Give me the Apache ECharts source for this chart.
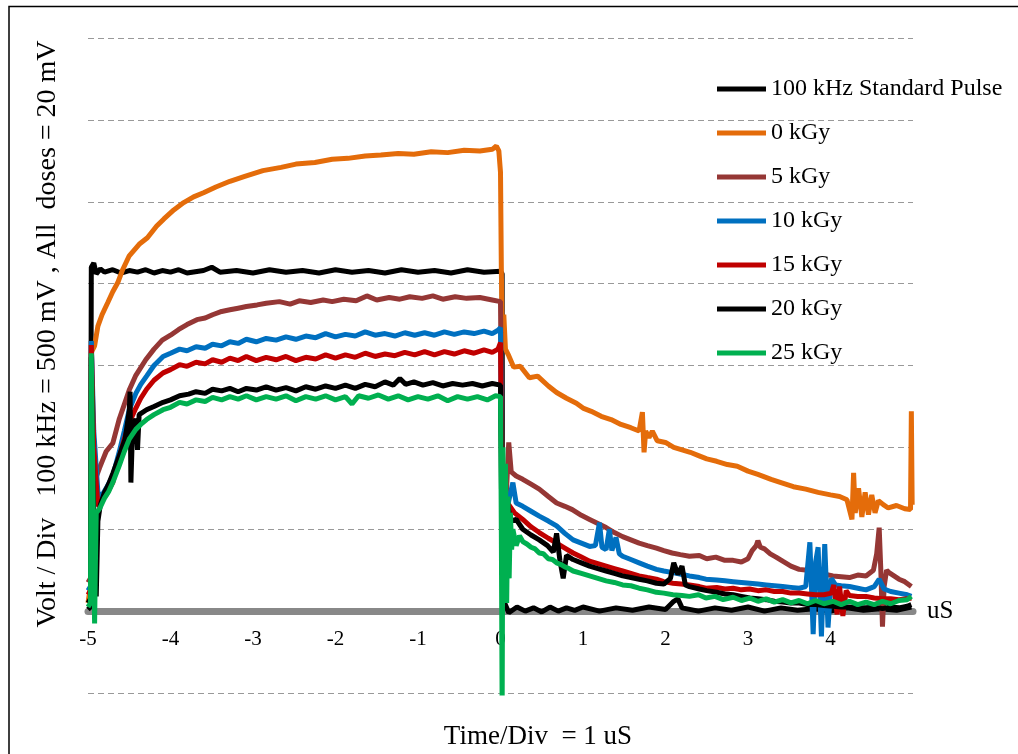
<!DOCTYPE html>
<html>
<head>
<meta charset="utf-8">
<title>Pulse response</title>
<script src="https://cdn.jsdelivr.net/npm/echarts@6/dist/echarts.min.js"></script>
<style>
html, body { margin: 0; padding: 0; background: #fff; }
#opt-pulse { width: 1018px; height: 754px; }
</style>
</head>
<body>
<div id="opt-pulse"></div>
<script>
// series names (legend order)
var seriesNames = ['100 kHz Standard Pulse', '0 kGy', '5 kGy', '10 kGy', '15 kGy', '20 kGy', '25 kGy'];

// [time (uS), divisions]
var stdPulse = [[-5,0.02],[-4.97,0.05],[-4.96,4.2],[-4.93,4.25],[-4.9,4.12],[-4.85,4.18],[-4.8,4.14],[-4.7,4.17],[-4.6,4.13],[-4.5,4.16],[-4.4,4.14],[-4.3,4.17],[-4.2,4.13],[-4.1,4.16],[-4.0,4.14],[-3.9,4.17],[-3.8,4.13],[-3.6,4.16],[-3.5,4.2],[-3.4,4.14],[-3.2,4.16],[-3.0,4.13],[-2.8,4.17],[-2.6,4.14],[-2.4,4.16],[-2.2,4.13],[-2.0,4.17],[-1.8,4.14],[-1.6,4.16],[-1.4,4.13],[-1.2,4.17],[-1.0,4.14],[-0.8,4.16],[-0.6,4.13],[-0.4,4.17],[-0.2,4.14],[0,4.15],[0.02,4.12],[0.025,0.05],[0.05,0.1],[0.1,-0.02],[0.2,0.05],[0.3,0.0],[0.4,0.04],[0.5,-0.01],[0.6,0.05],[0.7,0.0],[0.8,0.04],[0.9,0.01],[1.0,0.05],[1.2,0.0],[1.4,0.04],[1.6,0.01],[1.8,0.05],[2.0,0.02],[2.1,0.12],[2.15,0.15],[2.2,0.04],[2.4,0.0],[2.6,0.04],[2.8,0.01],[3.0,0.05],[3.2,0.0],[3.4,0.04],[3.6,0.01],[3.8,0.03],[4.0,0.0],[4.2,0.04],[4.4,0.01],[4.6,0.03],[4.8,0.01],[4.98,0.05]];

var dose0 = [[-5,0.1],[-4.97,0.3],[-4.96,3.16],[-4.92,3.24],[-4.88,3.48],[-4.83,3.62],[-4.76,3.77],[-4.7,3.9],[-4.64,4.01],[-4.58,4.17],[-4.5,4.34],[-4.38,4.48],[-4.28,4.56],[-4.17,4.7],[-4.08,4.79],[-3.96,4.9],[-3.84,4.99],[-3.72,5.06],[-3.6,5.11],[-3.45,5.18],[-3.28,5.25],[-3.1,5.31],[-2.88,5.38],[-2.66,5.42],[-2.48,5.46],[-2.25,5.48],[-2.04,5.52],[-1.85,5.53],[-1.64,5.56],[-1.45,5.57],[-1.24,5.59],[-1.05,5.58],[-0.84,5.61],[-0.64,5.6],[-0.44,5.63],[-0.25,5.62],[-0.1,5.64],[-0.05,5.68],[-0.02,5.62],[0,5.36],[0.01,4.2],[0.02,3.4],[0.04,3.62],[0.06,3.2],[0.1,3.12],[0.16,2.98],[0.24,2.99],[0.35,2.85],[0.45,2.87],[0.58,2.75],[0.68,2.67],[0.8,2.6],[0.92,2.54],[1.0,2.48],[1.1,2.44],[1.22,2.38],[1.34,2.34],[1.46,2.28],[1.58,2.24],[1.68,2.2],[1.72,2.43],[1.74,1.94],[1.76,2.2],[1.8,2.12],[1.84,2.2],[1.9,2.08],[2.0,2.06],[2.1,2.0],[2.2,1.97],[2.3,1.94],[2.4,1.9],[2.5,1.86],[2.62,1.83],[2.75,1.79],[2.87,1.77],[3.0,1.71],[3.12,1.67],[3.28,1.61],[3.4,1.57],[3.55,1.52],[3.7,1.49],[3.85,1.45],[4.0,1.42],[4.11,1.4],[4.2,1.36],[4.26,1.12],[4.28,1.69],[4.3,1.2],[4.34,1.5],[4.38,1.15],[4.42,1.45],[4.46,1.18],[4.5,1.42],[4.54,1.2],[4.58,1.35],[4.64,1.3],[4.7,1.26],[4.8,1.29],[4.9,1.25],[4.97,1.24],[4.98,2.44],[4.99,1.3]];

var dose5 = [[-5,0.35],[-4.97,0.4],[-4.96,3.3],[-4.94,2.2],[-4.9,1.64],[-4.86,1.75],[-4.82,1.85],[-4.78,1.95],[-4.7,2.05],[-4.62,2.35],[-4.5,2.7],[-4.42,2.88],[-4.3,3.07],[-4.2,3.2],[-4.1,3.31],[-4.0,3.37],[-3.9,3.44],[-3.8,3.5],[-3.68,3.56],[-3.58,3.58],[-3.49,3.62],[-3.38,3.66],[-3.28,3.68],[-3.18,3.7],[-3.08,3.72],[-2.95,3.74],[-2.84,3.76],[-2.68,3.78],[-2.55,3.75],[-2.44,3.79],[-2.3,3.77],[-2.15,3.8],[-2.04,3.78],[-1.9,3.81],[-1.75,3.79],[-1.62,3.85],[-1.5,3.8],[-1.35,3.83],[-1.22,3.81],[-1.1,3.84],[-0.95,3.82],[-0.82,3.85],[-0.7,3.81],[-0.55,3.84],[-0.41,3.82],[-0.25,3.83],[-0.1,3.8],[0,3.78],[0.02,1.5],[0.06,1.2],[0.1,2.06],[0.13,1.7],[0.19,1.65],[0.27,1.61],[0.37,1.55],[0.47,1.49],[0.58,1.4],[0.68,1.32],[0.78,1.28],[0.87,1.24],[0.98,1.17],[1.08,1.12],[1.18,1.07],[1.28,1.02],[1.38,0.96],[1.48,0.91],[1.58,0.87],[1.68,0.83],[1.78,0.8],[1.89,0.77],[1.98,0.74],[2.08,0.71],[2.18,0.69],[2.29,0.67],[2.41,0.68],[2.5,0.64],[2.61,0.66],[2.72,0.62],[2.82,0.62],[2.92,0.6],[3.0,0.64],[3.05,0.74],[3.1,0.8],[3.12,0.86],[3.15,0.78],[3.2,0.76],[3.27,0.7],[3.34,0.66],[3.42,0.61],[3.52,0.55],[3.62,0.51],[3.72,0.5],[3.83,0.47],[3.93,0.45],[4.03,0.43],[4.13,0.42],[4.23,0.41],[4.33,0.44],[4.43,0.43],[4.52,0.5],[4.56,0.7],[4.59,1.02],[4.61,0.5],[4.63,-0.19],[4.65,0.3],[4.68,0.5],[4.71,0.47],[4.77,0.43],[4.83,0.39],[4.9,0.36],[4.98,0.3]];

var dose10 = [[-5,0.25],[-4.97,0.3],[-4.96,3.3],[-4.93,2.2],[-4.88,1.45],[-4.84,1.4],[-4.78,1.5],[-4.7,1.65],[-4.62,1.95],[-4.56,2.2],[-4.5,2.46],[-4.42,2.66],[-4.36,2.77],[-4.29,2.87],[-4.2,3.0],[-4.09,3.11],[-4.0,3.15],[-3.89,3.2],[-3.8,3.18],[-3.69,3.23],[-3.58,3.21],[-3.49,3.26],[-3.38,3.24],[-3.28,3.29],[-3.18,3.27],[-3.08,3.32],[-2.96,3.29],[-2.84,3.33],[-2.72,3.31],[-2.6,3.35],[-2.48,3.32],[-2.36,3.36],[-2.24,3.34],[-2.12,3.39],[-2.0,3.35],[-1.88,3.38],[-1.76,3.36],[-1.64,3.41],[-1.52,3.37],[-1.4,3.39],[-1.28,3.36],[-1.16,3.4],[-1.04,3.37],[-0.92,3.4],[-0.8,3.37],[-0.68,3.41],[-0.56,3.38],[-0.44,3.41],[-0.32,3.39],[-0.2,3.42],[-0.1,3.39],[-0.03,3.43],[0,3.46],[0.02,1.1],[0.05,1.0],[0.1,1.35],[0.15,1.57],[0.19,1.32],[0.27,1.28],[0.37,1.22],[0.47,1.16],[0.58,1.1],[0.68,1.04],[0.78,0.95],[0.88,0.87],[0.98,0.83],[1.08,0.79],[1.15,0.8],[1.2,1.08],[1.23,0.78],[1.28,0.75],[1.32,1.0],[1.35,0.74],[1.4,0.9],[1.44,0.7],[1.48,0.67],[1.58,0.63],[1.68,0.59],[1.78,0.55],[1.89,0.51],[1.98,0.49],[2.09,0.47],[2.19,0.45],[2.29,0.43],[2.41,0.41],[2.49,0.39],[2.62,0.38],[2.72,0.37],[2.82,0.36],[2.92,0.35],[3.02,0.34],[3.12,0.33],[3.22,0.32],[3.32,0.31],[3.42,0.3],[3.52,0.29],[3.62,0.28],[3.7,0.3],[3.75,0.84],[3.79,-0.28],[3.82,0.6],[3.85,0.78],[3.89,-0.31],[3.93,0.82],[3.97,-0.2],[4.01,0.4],[4.06,0.32],[4.13,0.31],[4.23,0.3],[4.33,0.28],[4.43,0.26],[4.53,0.3],[4.59,0.39],[4.65,0.27],[4.73,0.24],[4.83,0.22],[4.93,0.2],[4.98,0.18]];

var dose15 = [[-5,0.2],[-4.97,0.25],[-4.96,3.25],[-4.93,2.0],[-4.88,1.28],[-4.84,1.35],[-4.78,1.42],[-4.7,1.57],[-4.62,1.88],[-4.56,2.1],[-4.5,2.3],[-4.42,2.48],[-4.36,2.6],[-4.29,2.71],[-4.2,2.82],[-4.09,2.91],[-4.0,2.95],[-3.89,3.01],[-3.8,2.99],[-3.69,3.04],[-3.58,3.02],[-3.49,3.07],[-3.38,3.04],[-3.28,3.09],[-3.18,3.06],[-3.08,3.11],[-2.96,3.06],[-2.84,3.1],[-2.72,3.07],[-2.6,3.11],[-2.48,3.06],[-2.36,3.1],[-2.24,3.08],[-2.12,3.13],[-2.0,3.09],[-1.88,3.13],[-1.76,3.1],[-1.64,3.15],[-1.52,3.11],[-1.4,3.14],[-1.28,3.12],[-1.16,3.16],[-1.04,3.13],[-0.92,3.17],[-0.8,3.13],[-0.68,3.17],[-0.56,3.14],[-0.44,3.18],[-0.32,3.15],[-0.2,3.19],[-0.1,3.16],[-0.03,3.2],[0,3.28],[0.02,1.0],[0.05,0.9],[0.1,1.3],[0.17,1.2],[0.27,1.12],[0.37,1.03],[0.47,0.96],[0.58,0.89],[0.68,0.83],[0.78,0.77],[0.88,0.71],[0.98,0.66],[1.08,0.61],[1.18,0.58],[1.28,0.55],[1.38,0.52],[1.48,0.49],[1.58,0.46],[1.68,0.43],[1.78,0.41],[1.89,0.39],[1.98,0.36],[2.09,0.34],[2.19,0.33],[2.29,0.32],[2.41,0.3],[2.49,0.28],[2.62,0.29],[2.72,0.27],[2.82,0.28],[2.92,0.26],[3.02,0.27],[3.12,0.25],[3.22,0.26],[3.32,0.24],[3.42,0.24],[3.52,0.22],[3.62,0.22],[3.72,0.21],[3.82,0.2],[3.92,0.2],[4.01,0.22],[4.04,0.32],[4.08,-0.04],[4.11,0.3],[4.15,-0.06],[4.19,0.25],[4.23,0.19],[4.33,0.18],[4.43,0.18],[4.53,0.16],[4.63,0.15],[4.73,0.15],[4.83,0.14],[4.93,0.15],[4.98,0.16]];

var dose20 = [[-5,0.1],[-4.97,0.15],[-4.96,3.1],[-4.94,1.6],[-4.9,0.18],[-4.88,1.1],[-4.85,1.3],[-4.8,1.45],[-4.75,1.55],[-4.7,1.68],[-4.62,1.9],[-4.55,2.1],[-4.5,2.45],[-4.49,2.68],[-4.48,1.57],[-4.46,2.22],[-4.42,2.35],[-4.4,1.97],[-4.38,2.4],[-4.29,2.46],[-4.2,2.5],[-4.09,2.55],[-4.0,2.58],[-3.89,2.63],[-3.78,2.65],[-3.69,2.68],[-3.58,2.66],[-3.49,2.71],[-3.38,2.69],[-3.28,2.72],[-3.18,2.68],[-3.08,2.72],[-2.96,2.7],[-2.84,2.74],[-2.72,2.7],[-2.6,2.73],[-2.48,2.69],[-2.36,2.74],[-2.24,2.71],[-2.12,2.75],[-2.0,2.72],[-1.88,2.76],[-1.76,2.72],[-1.64,2.77],[-1.52,2.74],[-1.4,2.8],[-1.3,2.76],[-1.22,2.84],[-1.15,2.77],[-1.05,2.8],[-0.94,2.76],[-0.82,2.79],[-0.7,2.75],[-0.58,2.78],[-0.46,2.76],[-0.34,2.78],[-0.22,2.75],[-0.1,2.78],[0,2.76],[0.02,0.6],[0.05,1.0],[0.08,1.35],[0.12,1.1],[0.19,1.12],[0.27,1.0],[0.37,0.93],[0.47,0.87],[0.57,0.8],[0.64,0.72],[0.68,0.95],[0.72,0.62],[0.76,0.4],[0.8,0.68],[0.88,0.63],[0.98,0.59],[1.08,0.55],[1.18,0.52],[1.28,0.49],[1.38,0.46],[1.48,0.43],[1.58,0.41],[1.68,0.39],[1.78,0.37],[1.89,0.34],[1.98,0.33],[2.06,0.4],[2.1,0.59],[2.15,0.45],[2.2,0.55],[2.24,0.32],[2.29,0.3],[2.41,0.27],[2.5,0.25],[2.62,0.23],[2.72,0.21],[2.82,0.2],[2.92,0.18],[3.02,0.16],[3.12,0.15],[3.22,0.14],[3.32,0.12],[3.42,0.11],[3.52,0.1],[3.62,0.1],[3.72,0.08],[3.82,0.08],[3.92,0.07],[4.03,0.06],[4.13,0.05],[4.23,0.05],[4.33,0.04],[4.43,0.04],[4.53,0.05],[4.63,0.03],[4.73,0.05],[4.83,0.04],[4.93,0.06],[4.98,0.08]];

var dose25 = [[-5,0.05],[-4.97,0.1],[-4.96,3.15],[-4.94,1.5],[-4.92,-0.15],[-4.91,0.6],[-4.9,1.2],[-4.86,1.25],[-4.8,1.38],[-4.75,1.46],[-4.7,1.57],[-4.62,1.78],[-4.56,1.95],[-4.5,2.1],[-4.42,2.22],[-4.36,2.28],[-4.29,2.34],[-4.2,2.4],[-4.09,2.46],[-4.0,2.49],[-3.89,2.55],[-3.8,2.53],[-3.69,2.58],[-3.58,2.56],[-3.49,2.61],[-3.38,2.58],[-3.28,2.62],[-3.18,2.59],[-3.08,2.63],[-2.96,2.58],[-2.84,2.62],[-2.72,2.59],[-2.6,2.63],[-2.48,2.57],[-2.36,2.62],[-2.24,2.59],[-2.12,2.63],[-2.0,2.58],[-1.88,2.62],[-1.8,2.53],[-1.72,2.63],[-1.6,2.6],[-1.48,2.64],[-1.36,2.59],[-1.24,2.63],[-1.12,2.58],[-1.0,2.62],[-0.88,2.59],[-0.76,2.63],[-0.64,2.57],[-0.52,2.62],[-0.4,2.59],[-0.28,2.62],[-0.16,2.58],[-0.06,2.63],[0,2.62],[0.01,1.0],[0.02,-1.23],[0.03,2.0],[0.045,0.2],[0.06,1.8],[0.075,0.1],[0.09,1.4],[0.105,0.4],[0.12,1.2],[0.135,0.75],[0.15,1.0],[0.19,0.8],[0.23,0.92],[0.27,0.85],[0.32,0.82],[0.37,0.78],[0.42,0.76],[0.47,0.71],[0.52,0.7],[0.58,0.64],[0.63,0.63],[0.68,0.59],[0.73,0.57],[0.78,0.54],[0.83,0.52],[0.88,0.49],[0.98,0.46],[1.08,0.43],[1.18,0.4],[1.28,0.37],[1.38,0.35],[1.48,0.32],[1.58,0.31],[1.68,0.28],[1.78,0.26],[1.89,0.23],[1.98,0.22],[2.09,0.2],[2.2,0.19],[2.29,0.18],[2.4,0.2],[2.49,0.16],[2.6,0.18],[2.7,0.14],[2.82,0.17],[2.92,0.13],[3.02,0.16],[3.12,0.12],[3.22,0.15],[3.32,0.11],[3.42,0.14],[3.52,0.1],[3.62,0.13],[3.72,0.09],[3.82,0.13],[3.92,0.09],[4.03,0.12],[4.13,0.08],[4.23,0.12],[4.33,0.08],[4.43,0.11],[4.53,0.08],[4.63,0.12],[4.73,0.09],[4.83,0.13],[4.93,0.14],[4.98,0.18]];

var traces = [stdPulse, dose0, dose5, dose10, dose15, dose20, dose25];

window.onload = function(){
    pulseChart();
}

function pulseChart(){
    var myChart = echarts.init(document.getElementById('opt-pulse'));
    var serif = '"Liberation Serif", "Times New Roman", serif';
    var palette = ['#000000', '#E46C0A', '#953735', '#0070C0', '#C00000', '#000000', '#00B050'];

    var series = [];
    for (var i = 0; i < traces.length; i++) {
        series.push({
            name: seriesNames[i],
            type: 'line',
            data: traces[i],
            showSymbol: false,
            symbol: 'none',
            silent: true,
            lineStyle: { width: 5, color: palette[i] },
            itemStyle: { color: palette[i] }
        });
    }

    var option = {
        animation: false,
        backgroundColor: '#fff',
        grid: { left: 88, right: 105, top: 38, bottom: 61, outerBoundsMode: 'none' },
        legend: {
            data: seriesNames,
            orient: 'vertical',
            left: 712,
            top: 72,
            icon: 'rect',
            itemWidth: 49,
            itemHeight: 5,
            itemGap: 20,
            selectedMode: false,
            textStyle: { fontFamily: serif, fontSize: 24, color: '#000', lineHeight: 24 }
        },
        // axis sits on y = 0 (one division above the bottom gridline)
        xAxis: {
            type: 'value',
            min: -5,
            max: 5,
            interval: 1,
            position: 'bottom',
            offset: -82,
            name: 'uS',
            nameLocation: 'end',
            nameGap: 14,
            nameTextStyle: { fontFamily: serif, fontSize: 25, color: '#000', verticalAlign: 'middle' },
            axisLine: { onZero: false, lineStyle: { color: '#888888', width: 7 } },
            axisTick: { show: false },
            splitLine: { show: false },
            axisLabel: {
                margin: 18,
                fontFamily: serif,
                fontSize: 21,
                color: '#000',
                formatter: function(v){ return v === 5 ? '' : String(v); }
            }
        },
        yAxis: {
            type: 'value',
            min: -1,
            max: 7,
            interval: 1,
            axisLine: { show: false },
            axisTick: { show: false },
            axisLabel: { show: false },
            splitLine: { lineStyle: { color: '#999999', width: 1, type: [6, 4] } }
        },
        graphic: [
            {
                type: 'rect',
                shape: { x: 9, y: 6.5, width: 1100, height: 900 },
                style: { fill: 'none', stroke: '#000', lineWidth: 1.5 },
                silent: true
            },
            {
                type: 'text',
                x: 48,
                y: 334,
                rotation: Math.PI / 2,
                style: {
                    text: 'Volt / Div   100 kHz = 500 mV , All  doses = 20 mV',
                    font: '28px ' + serif,
                    fill: '#000',
                    align: 'center',
                    verticalAlign: 'middle'
                },
                silent: true
            },
            {
                type: 'text',
                x: 538,
                y: 737,
                style: {
                    text: 'Time/Div  = 1 uS',
                    font: '27px ' + serif,
                    fill: '#000',
                    align: 'center',
                    verticalAlign: 'middle'
                },
                silent: true
            }
        ],
        series: series
    };

    myChart.setOption(option);
}
</script>
</body>
</html>
